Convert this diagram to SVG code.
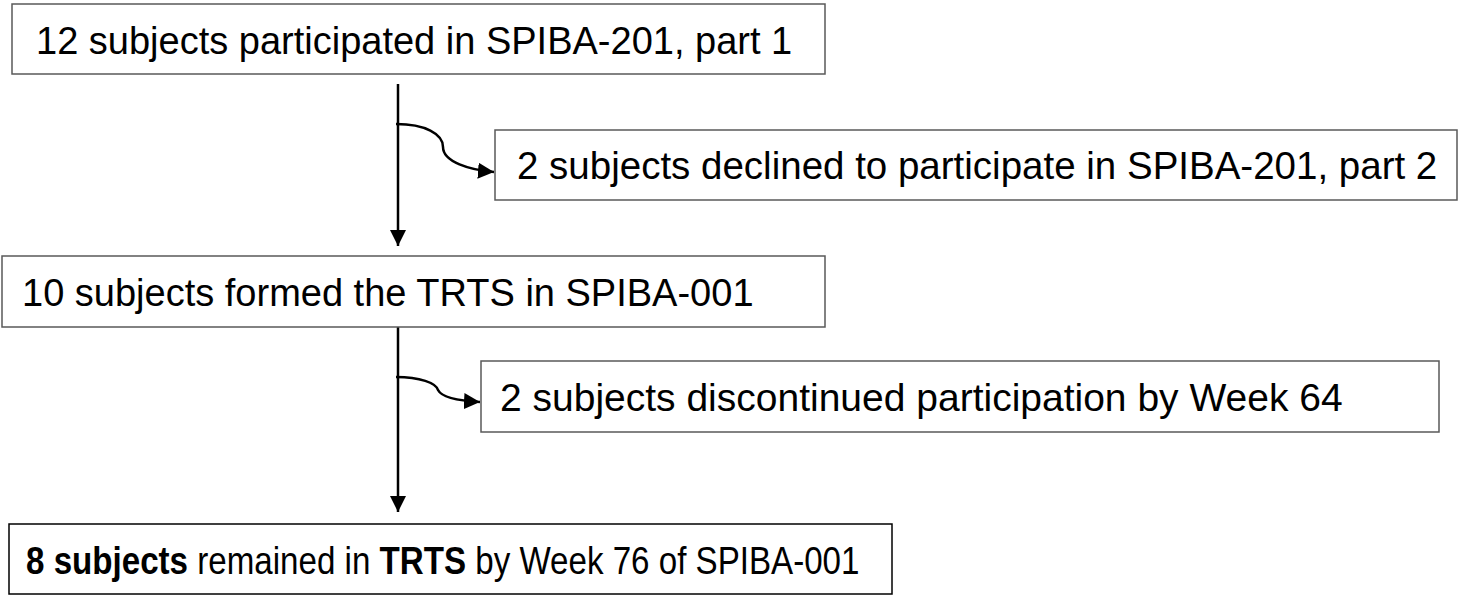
<svg xmlns="http://www.w3.org/2000/svg" width="1464" height="596" viewBox="0 0 1464 596">
<style>
.box{fill:#fff;stroke:#595959;stroke-width:1.5}
.box5{fill:#fff;stroke:#000;stroke-width:1.5}
.t{font-family:"Liberation Sans",Arial,sans-serif;font-size:38px;fill:#000}
.b{font-weight:bold}
.ln{fill:none;stroke:#000;stroke-width:2.5}
</style>
<defs>
<marker id="ah" viewBox="0 0 10 10" refX="10" refY="5" markerWidth="16" markerHeight="16" markerUnits="userSpaceOnUse" orient="auto">
<path d="M0,0 L10,5 L0,10 z" fill="#000"/>
</marker>
</defs>
<g id="connectors">
<line class="ln" x1="398" y1="84" x2="398" y2="246" marker-end="url(#ah)"/>
<path class="ln" d="M396,124 C425,124 443,134 443,147 C443,162 470,170 494,172" marker-end="url(#ah)"/>
<line class="ln" x1="398" y1="327" x2="398" y2="512" marker-end="url(#ah)"/>
<path class="ln" d="M396,377 C420,377 436,383 438,390 C442,398 462,401 480,402" marker-end="url(#ah)"/>
</g>
<g id="n1">
<rect class="box" x="12" y="4" width="813" height="70"/>
<text class="t" x="36" y="54">12 subjects participated in SPIBA-201, part 1</text>
</g>
<g id="n2">
<rect class="box" x="495" y="130" width="962" height="70"/>
<text class="t" x="517" y="179" style="font-size:38.5px">2 subjects declined to participate in SPIBA-201, part 2</text>
</g>
<g id="n3">
<rect class="box" x="2" y="256" width="823" height="71"/>
<text class="t" x="22" y="306">10 subjects formed the TRTS in SPIBA-001</text>
</g>
<g id="n4">
<rect class="box" x="481" y="361" width="958" height="71"/>
<text class="t" x="500" y="411" style="font-size:39px">2 subjects discontinued participation by Week 64</text>
</g>
<g id="n5">
<rect class="box5" x="9" y="524" width="883" height="70"/>
<text class="t" transform="translate(26,574) scale(0.872,1)" x="0" y="0"><tspan class="b">8 subjects</tspan> remained in <tspan class="b">TRTS</tspan> by Week 76 of SPIBA-001</text>
</g>
</svg>
